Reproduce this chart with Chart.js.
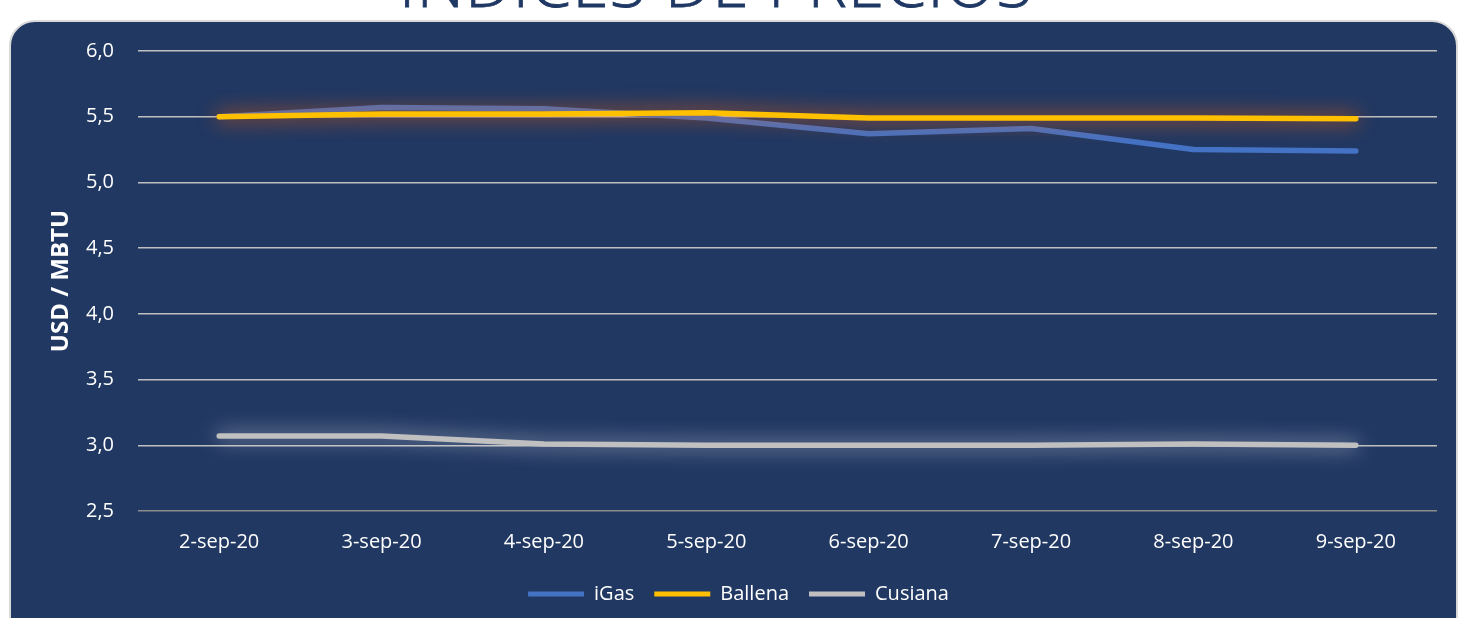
<!DOCTYPE html>
<html>
<head>
<meta charset="utf-8">
<script src="https://cdn.jsdelivr.net/npm/chart.js@4.4.0/dist/chart.umd.min.js"></script>
<style>
  html, body { margin: 0; padding: 0; background: #fff; width: 1458px; height: 618px; overflow: hidden; }
  #title {
    position: absolute; left: 0; width: 1432px; top: -64px; text-align: center;
    font-family: "Open Sans", sans-serif; font-weight: 300; font-size: 66px;
    color: #1f3864; letter-spacing: 1px; white-space: nowrap;
    -webkit-text-stroke: 0.8px #1f3864;
  }
  #panel {
    position: absolute; left: 9px; top: 20px; width: 1445px; height: 640px;
    background: #213862; border: 2px solid #d9d9d9; border-radius: 26px;
  }
  #wrap { position: absolute; left: 0; top: 0; width: 1458px; height: 618px; }
</style>
</head>
<body>
<div id="title">INDICES DE PRECIOS</div>
<div id="panel"></div>
<div id="wrap"><canvas id="chart"></canvas></div>
<script>
const fechas = ['2-sep-20', '3-sep-20', '4-sep-20', '5-sep-20', '6-sep-20', '7-sep-20', '8-sep-20', '9-sep-20'];
const iGas = [5.50, 5.57, 5.56, 5.49, 5.37, 5.41, 5.25, 5.24];
const ballena = [5.50, 5.52, 5.52, 5.53, 5.49, 5.49, 5.49, 5.485];
const cusiana = [3.07, 3.07, 3.01, 3.00, 3.00, 3.00, 3.01, 3.00];

// halo alrededor de las lineas
const glowPlugin = {
  id: 'glow',
  beforeDatasetDraw(chart, args) {
    const ds = chart.data.datasets[args.index];
    chart.ctx.save();
    if (ds.glowColor) {
      chart.ctx.shadowColor = ds.glowColor;
      chart.ctx.shadowBlur = 20;
    }
  },
  afterDatasetDraw(chart) {
    chart.ctx.restore();
  }
};

const font = { family: '"Open Sans", sans-serif', size: 20 };

new Chart(document.getElementById('chart'), {
  type: 'line',
  data: {
    labels: fechas,
    datasets: [
      { label: 'iGas', data: iGas, borderColor: '#4472c4', backgroundColor: '#4472c4', order: 1 },
      { label: 'Ballena', data: ballena, borderColor: '#ffc000', backgroundColor: '#ffc000', order: 0,
        glowColor: 'rgba(255, 95, 0, 1)' },
      { label: 'Cusiana', data: cusiana, borderColor: '#c0c0c0', backgroundColor: '#c0c0c0', order: 2,
        glowColor: 'rgba(230, 230, 240, 0.8)' }
    ]
  },
  options: {
    responsive: true,
    maintainAspectRatio: false,
    animation: false,
    elements: {
      line: { borderWidth: 5.5, tension: 0, borderCapStyle: 'round', borderJoinStyle: 'round', fill: false },
      point: { radius: 0, hoverRadius: 0 }
    },
    layout: { padding: { left: 40, right: 21, top: 51, bottom: 4 } },
    plugins: {
      tooltip: { enabled: false },
      legend: {
        position: 'bottom',
        labels: {
          color: '#ffffff',
          font: font,
          boxWidth: 56,
          boxHeight: 5,
          padding: 20,
          useBorderRadius: true,
          borderRadius: 2.5,
          sort: (a, b) => a.datasetIndex - b.datasetIndex,
          generateLabels(chart) {
            return chart.data.datasets.map((ds, i) => ({
              text: ds.label,
              fillStyle: ds.borderColor,
              strokeStyle: ds.borderColor,
              lineWidth: 0,
              fontColor: '#ffffff',
              datasetIndex: i,
              hidden: false
            }));
          }
        }
      }
    },
    scales: {
      x: {
        offset: true,
        grid: { display: false },
        border: { display: false },
        ticks: { color: '#ffffff', font: font, padding: 11, maxRotation: 0 },
        afterFit(scale) { scale.height = 53; }
      },
      y: {
        min: 2.5,
        max: 6.0,
        border: { display: false },
        grid: {
          drawTicks: false,
          lineWidth: 1.5,
          color: ctx => ctx.tick && ctx.tick.value === 2.5 ? '#8c8c8c' : '#bfbfbf'
        },
        ticks: {
          stepSize: 0.5,
          color: '#ffffff',
          font: font,
          padding: 24,
          callback: v => v.toFixed(1).replace('.', ',')
        },
        title: {
          display: true,
          text: 'USD / MBTU',
          color: '#ffffff',
          font: { family: '"Open Sans", sans-serif', size: 24, weight: 'bold' },
          padding: { top: 7, bottom: 0 }
        },
        afterFit(scale) { scale.width = 98; }
      }
    }
  },
  plugins: [glowPlugin]
});
</script>
</body>
</html>
